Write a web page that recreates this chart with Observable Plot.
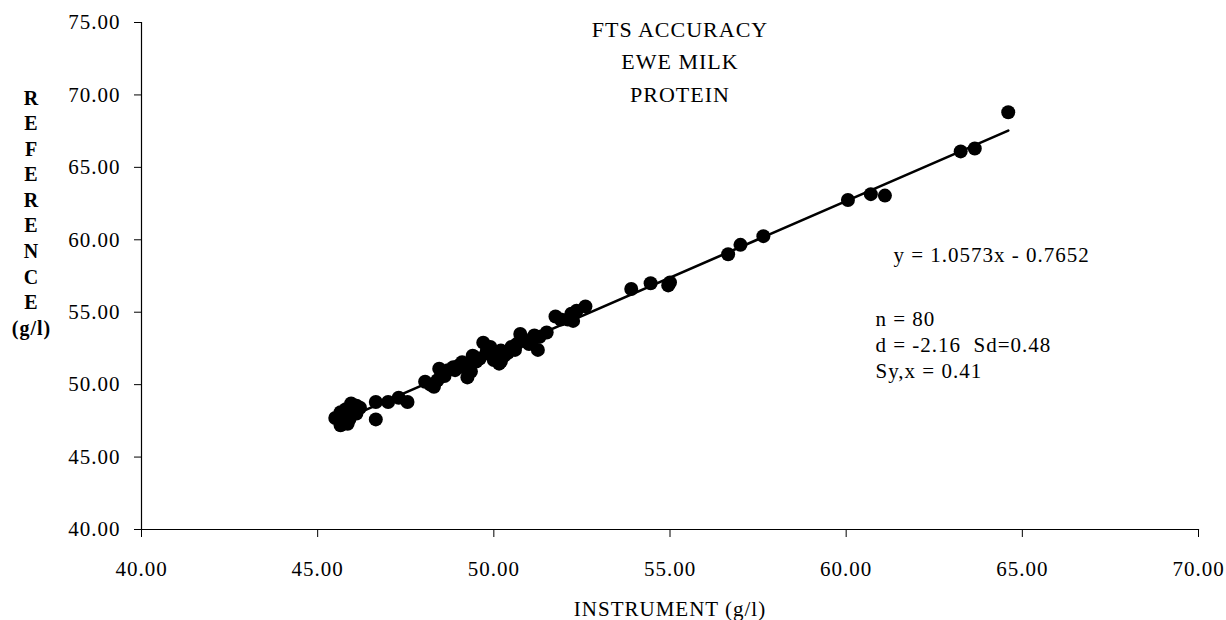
<!DOCTYPE html>
<html>
<head>
<meta charset="utf-8">
<script src="https://cdn.jsdelivr.net/npm/d3@7"></script>
<script src="https://cdn.jsdelivr.net/npm/@observablehq/plot@0.6"></script>
<style>
  html, body { margin: 0; padding: 0; background: #fff; }
</style>
</head>
<body>
<div id="chart"></div>
<script>
// Instrument readings (g/l)
const instrument = [
  45.5, 45.65, 45.85, 45.8, 45.95, 46.1, 45.65, 46.2, 46.65, 46.65,
  47.0, 47.3, 47.55, 48.05, 48.2, 48.3, 48.45, 48.6, 48.55, 48.85,
  48.7, 49.1, 49.25, 49.15, 49.4, 49.45, 49.3, 49.7, 49.6, 49.9,
  50.0, 50.15, 50.2, 50.3, 50.5, 50.65, 50.75, 50.9, 51.0, 51.15,
  51.25, 51.5, 51.75, 51.9, 52.25, 52.35, 52.6, 52.1, 53.9, 54.45,
  54.95, 55.0, 56.65, 57.0, 57.65, 60.05, 60.7, 61.1, 63.25, 63.65,
  64.6, 45.9, 46.0, 45.75, 48.9, 49.0, 49.5, 49.8, 50.1, 50.4,
  50.8, 51.1, 50.6, 49.9, 48.4, 51.3, 52.2, 46.1, 49.35, 50.2
];
// Reference readings (g/l)
const reference = [
  47.7, 47.2, 47.3, 48.3, 48.7, 48.55, 48.1, 48.4, 47.6, 48.8,
  48.8, 49.1, 48.8, 50.2, 50.0, 49.85, 51.1, 50.6, 50.8, 51.2,
  51.0, 51.55, 50.5, 51.2, 52.0, 51.9, 51.4, 52.9, 51.8, 52.1,
  51.7, 51.45, 52.35, 52.0, 52.6, 52.8, 53.5, 53.0, 52.8, 53.4,
  52.4, 53.6, 54.7, 54.5, 54.4, 55.1, 55.4, 54.5, 56.6, 57.0,
  56.85, 57.05, 59.0, 59.65, 60.25, 62.75, 63.15, 63.05, 66.1, 66.3,
  68.8, 47.6, 48.2, 47.8, 51.0, 51.3, 51.6, 52.3, 51.9, 52.2,
  53.2, 53.1, 52.4, 52.6, 50.3, 53.3, 54.9, 48.0, 50.9, 51.6
];

const slope = 1.0573;
const intercept = -0.7652;

const xTicks = [40, 45, 50, 55, 60, 65, 70];
const yTicks = [40, 45, 50, 55, 60, 65, 70, 75];

const titleLines = ["FTS ACCURACY", "EWE MILK", "PROTEIN"];
const equationText = "y = 1.0573x - 0.7652";
const statLines = ["n = 80", "d = -2.16  Sd=0.48", "Sy,x = 0.41"];
const xLabel = "INSTRUMENT (g/l)";
const yLabel = "R\nE\nF\nE\nR\nE\nN\nC\nE\n(g/l)";

const points = instrument.map((x, i) => ({x, y: reference[i]}));
const [xMin, xMax] = d3.extent(instrument);
const regLine = [xMin, xMax].map(x => ({x, y: slope * x + intercept}));

const serif = '"Liberation Serif", "Times New Roman", serif';

const marks = [
  Plot.frame({anchor: "left", stroke: "#000", strokeWidth: 1.2}),
  Plot.frame({anchor: "bottom", stroke: "#000", strokeWidth: 1.2}),
  Plot.axisX({ticks: xTicks, tickFormat: d => d.toFixed(2), tickSize: 8, tickPadding: 24, label: null, fontSize: 21, stroke: "#000"}),
  Plot.axisY({ticks: yTicks, tickFormat: d => d.toFixed(2), tickSize: 7, tickPadding: 14, label: null, fontSize: 21, stroke: "#000"}),
  Plot.line(regLine, {x: "x", y: "y", stroke: "#000", strokeWidth: 2.6}),
  Plot.dot(points, {x: "x", y: "y", r: 7, fill: "#000", stroke: "none"}),
  Plot.text([yLabel], {frameAnchor: "top-left", dx: -110, dy: 189, lineAnchor: "middle", textAnchor: "middle", fontSize: 20, fontWeight: "bold", lineHeight: 1.28}),
  Plot.text([xLabel], {frameAnchor: "bottom", dx: 0, dy: 80, lineAnchor: "middle", fontSize: 21}),
  Plot.text([equationText], {frameAnchor: "top-left", dx: 893 - 141, dy: 255 - 22, lineAnchor: "middle", textAnchor: "start", fontSize: 21}),
  ...titleLines.map((t, i) => Plot.text([t], {frameAnchor: "top", dx: 10, dy: 7 + i * 32.5, lineAnchor: "middle", fontSize: 22})),
  ...statLines.map((t, i) => Plot.text([t], {frameAnchor: "top-left", dx: 875 - 141, dy: 319 - 22 + i * 26, lineAnchor: "middle", textAnchor: "start", fontSize: 21}))
];

const chart = Plot.plot({
  width: 1226,
  height: 620,
  marginLeft: 141,
  marginRight: 28,
  marginTop: 22,
  marginBottom: 91,
  x: {domain: [40, 70]},
  y: {domain: [40, 75]},
  style: {fontFamily: serif, fontSize: "21px", letterSpacing: "1px", background: "#fff", color: "#000"},
  marks
});
document.getElementById("chart").appendChild(chart);
</script>
</body>
</html>
